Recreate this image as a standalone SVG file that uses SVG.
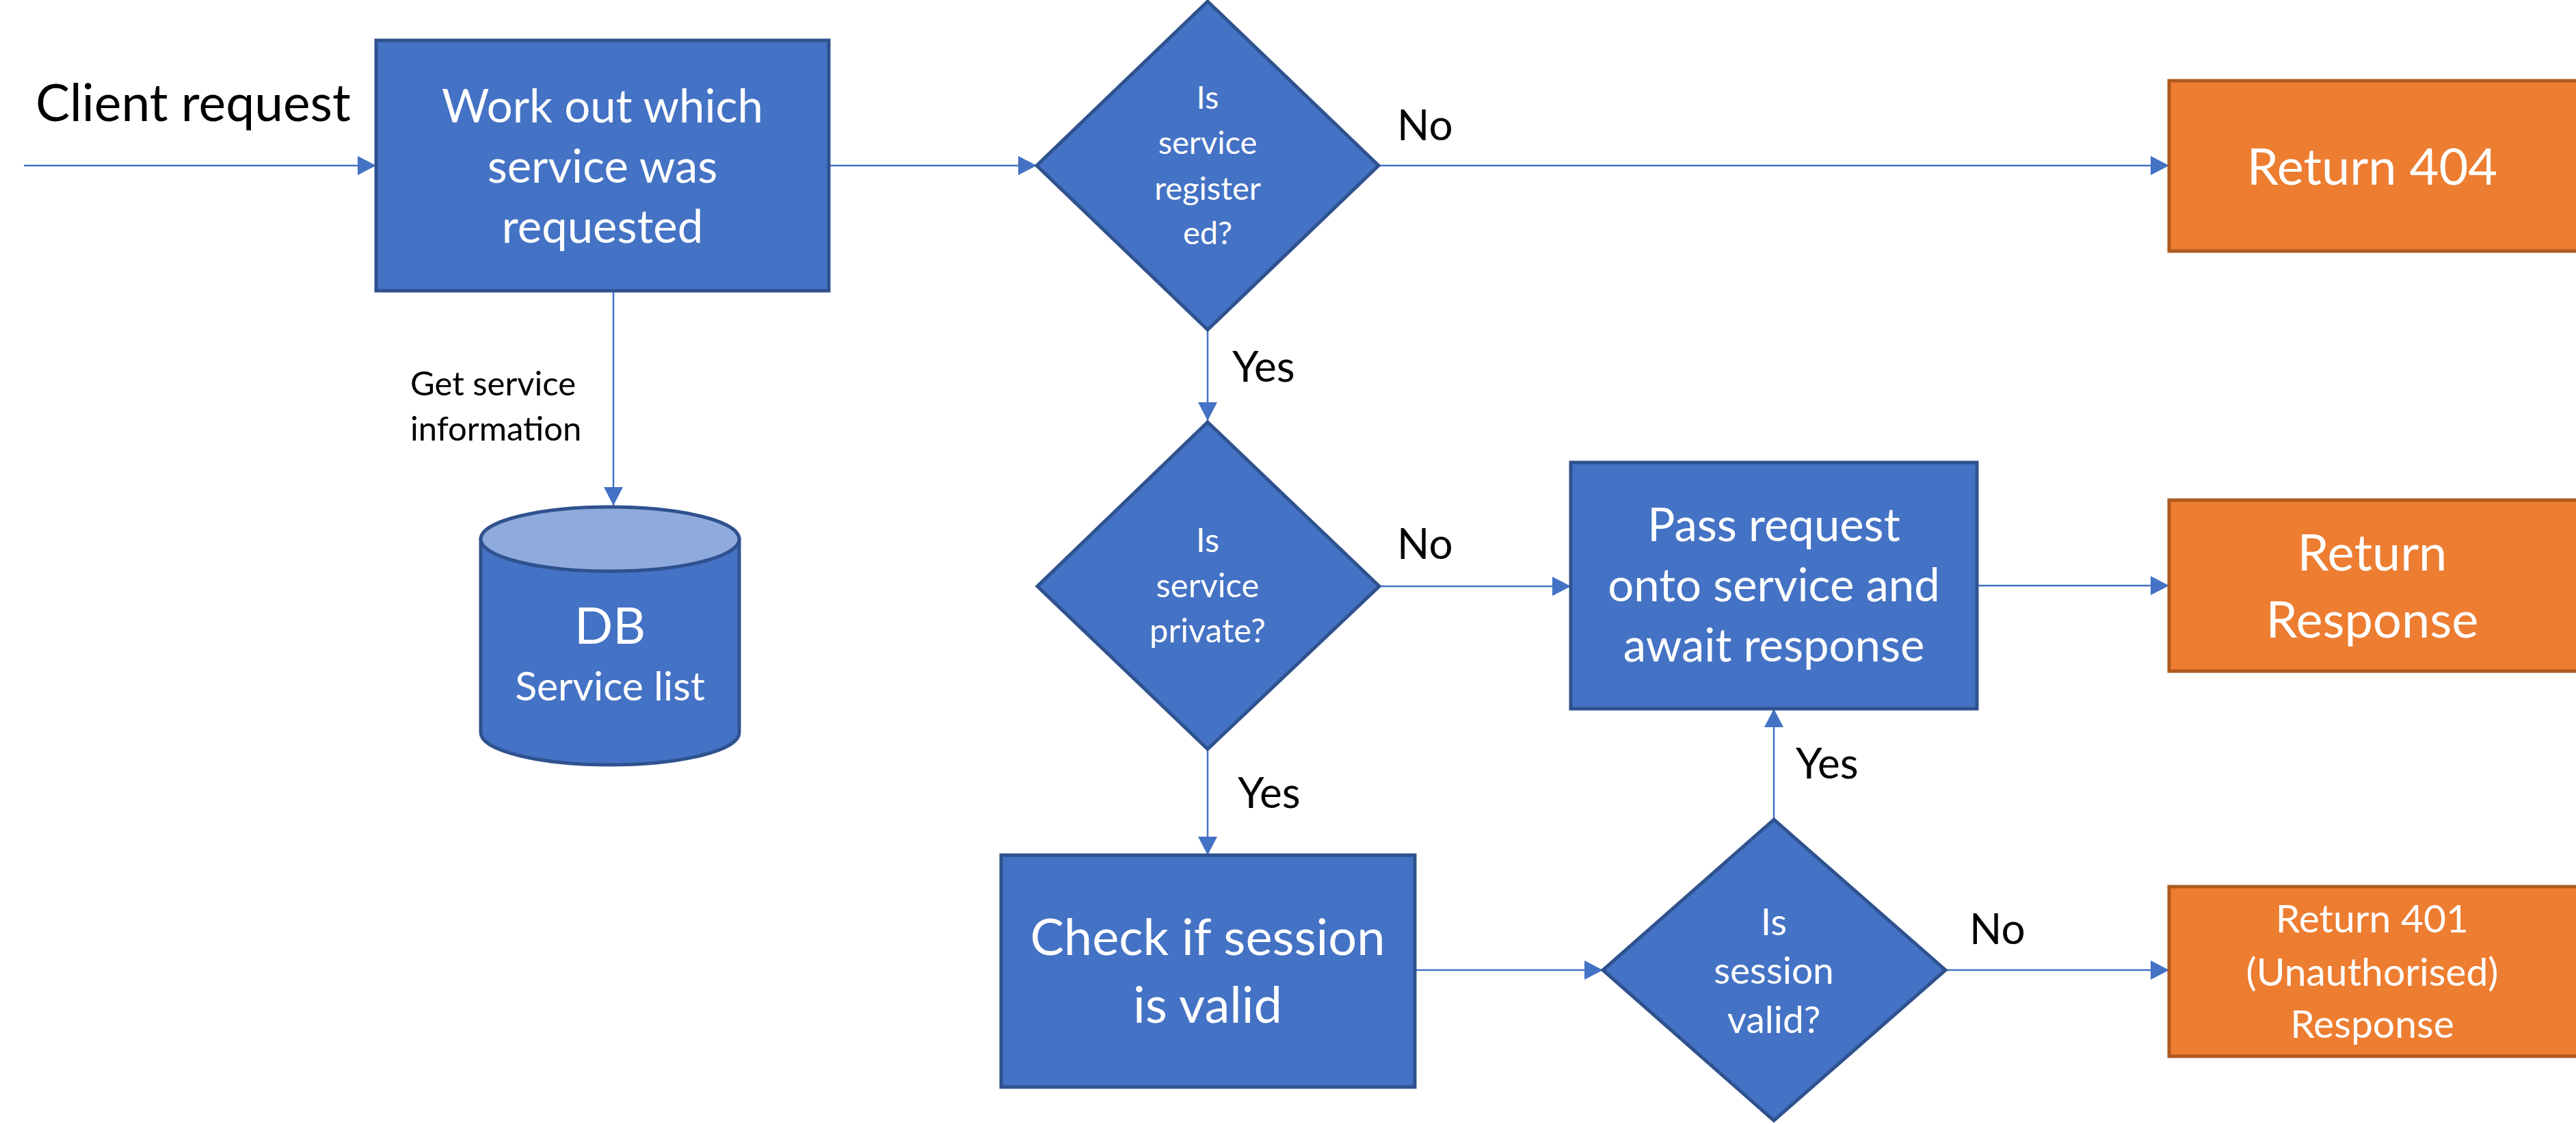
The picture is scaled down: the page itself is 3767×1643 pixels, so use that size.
<svg xmlns="http://www.w3.org/2000/svg" width="3767" height="1643" viewBox="0 0 3767 1643">
<style>
.blue{fill:#4472C4;stroke:#2F528F;stroke-width:5}
.orange{fill:#ED7D31;stroke:#AE5A21;stroke-width:5}
.conn{stroke:#4472C4;stroke-width:2.5;fill:none;marker-end:url(#arr)}
text{font-family:Lato,"Open Sans",sans-serif;text-anchor:middle}
.w{fill:#FFFFFF}
.k{fill:#000000}
.lbl{fill:#000000;text-anchor:start}
</style>
<defs>
<marker id="arr" markerUnits="userSpaceOnUse" markerWidth="28" markerHeight="28" refX="27" refY="14" orient="auto">
<path d="M0,0 L27,14 L0,28 Z" fill="#4472C4"/>
</marker>
</defs>
<rect width="3767" height="1643" fill="#FFFFFF"/>
<g id="connectors">
<path class="conn" d="M35,242 H550"/>
<path class="conn" d="M1212,242 H1516"/>
<path class="conn" d="M2016,242 H3172"/>
<path class="conn" d="M1766,482 V615"/>
<path class="conn" d="M2017,857 H2297"/>
<path class="conn" d="M1766,1095 V1250"/>
<path class="conn" d="M2069,1418 H2344"/>
<path class="conn" d="M2594,1198 V1036"/>
<path class="conn" d="M2845,1418 H3172"/>
<path class="conn" d="M2891,856 H3172"/>
<path class="conn" d="M897,425 V739"/>
<text class="lbl" x="2043" y="205" font-size="62">No</text>
<text class="lbl" x="1802" y="558" font-size="62">Yes</text>
<text class="lbl" x="2043" y="817" font-size="62">No</text>
<text class="lbl" x="1810" y="1181" font-size="62">Yes</text>
<text class="lbl" x="2626" y="1138" font-size="62">Yes</text>
<text class="lbl" x="2880" y="1380" font-size="62">No</text>
<text class="lbl" x="600" y="578" font-size="49">Get service</text>
<text class="lbl" x="600" y="644" font-size="49">information</text>
</g>
<g id="client-request">
<text class="lbl" x="52" y="177" font-size="75">Client request</text>
</g>
<g id="work-out">
<rect class="blue" x="550" y="59" width="662" height="366"/>
<text class="w" x="881" y="179" font-size="67">Work out which</text>
<text class="w" x="881" y="267" font-size="67">service was</text>
<text class="w" x="881" y="355" font-size="67">requested</text>
</g>
<g id="db">
<path class="blue" d="M703,788 V1071 A189,47 0 0 0 1081,1071 V788 Z"/>
<ellipse cx="892" cy="788" rx="189" ry="47" fill="#8FAADC" stroke="#2F528F" stroke-width="5"/>
<text class="w" x="892" y="941" font-size="74">DB</text>
<text class="w" x="892" y="1024" font-size="59">Service list</text>
</g>
<g id="is-registered">
<polygon class="blue" points="1766,2 2016,242 1766,482 1516,242"/>
<text class="w" x="1766" y="159" font-size="47">Is</text>
<text class="w" x="1766" y="225" font-size="47">service</text>
<text class="w" x="1766" y="292" font-size="47">register</text>
<text class="w" x="1766" y="357" font-size="47">ed?</text>
</g>
<g id="return-404">
<rect class="orange" x="3172" y="118" width="600" height="249"/>
<text class="w" x="3469" y="270" font-size="74">Return 404</text>
</g>
<g id="is-private">
<polygon class="blue" points="1766,617 2017,857 1766,1095 1517,857"/>
<text class="w" x="1766" y="807" font-size="49">Is</text>
<text class="w" x="1766" y="873" font-size="49">service</text>
<text class="w" x="1766" y="939" font-size="49">private?</text>
</g>
<g id="pass-request">
<rect class="blue" x="2297" y="676" width="594" height="360"/>
<text class="w" x="2594" y="791" font-size="67">Pass request</text>
<text class="w" x="2594" y="879" font-size="67">onto service and</text>
<text class="w" x="2594" y="967" font-size="67">await response</text>
</g>
<g id="return-response">
<rect class="orange" x="3172" y="731" width="600" height="250"/>
<text class="w" x="3469" y="834" font-size="74">Return</text>
<text class="w" x="3469" y="932" font-size="74">Response</text>
</g>
<g id="check-session">
<rect class="blue" x="1464" y="1250" width="605" height="339"/>
<text class="w" x="1766" y="1396" font-size="74">Check if session</text>
<text class="w" x="1766" y="1495" font-size="74">is valid</text>
</g>
<g id="is-session-valid">
<polygon class="blue" points="2594,1198 2845,1418 2594,1638 2344,1418"/>
<text class="w" x="2594" y="1367" font-size="55">Is</text>
<text class="w" x="2594" y="1438" font-size="55">session</text>
<text class="w" x="2594" y="1510" font-size="55">valid?</text>
</g>
<g id="return-401">
<rect class="orange" x="3172" y="1296" width="600" height="248"/>
<text class="w" x="3469" y="1363" font-size="57">Return 401</text>
<text class="w" x="3469" y="1441" font-size="57">(Unauthorised)</text>
<text class="w" x="3469" y="1517" font-size="57">Response</text>
</g>
</svg>
